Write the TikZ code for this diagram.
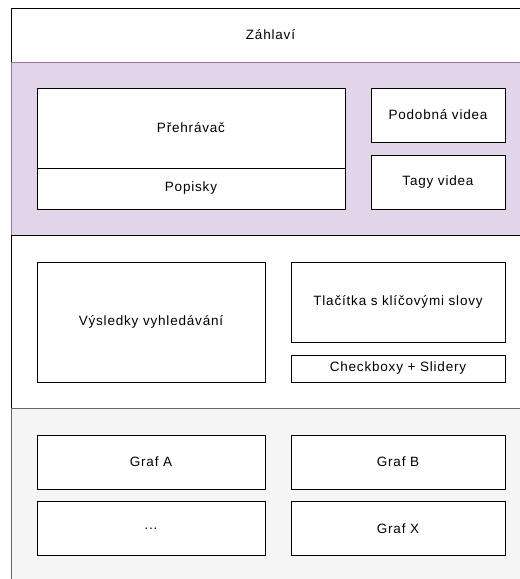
\documentclass[tikz,border=0pt]{standalone}
\usepackage{fontspec}
\setmainfont[LetterSpace=6]{Liberation Sans}
\begin{document}
\begin{tikzpicture}[x=1pt,y=-1pt,
  every node/.style={inner sep=0pt,outer sep=0pt,font=\fontsize{13.5}{15}\selectfont},
  band/.style={draw,line width=1pt,minimum width=519pt,minimum height=#1},
  box/.style={draw=black,fill=white,line width=1pt},
]
\useasboundingbox (0,0) rectangle (520,579);
\clip (0,0) rectangle (520,579);

% horizontal bands of the page layout
\node[band=54pt,draw=black,fill=white] (header) at (270.5,35) {Záhlaví};
\node[band=173pt,draw={rgb,255:red,150;green,115;blue,166},fill={rgb,255:red,225;green,213;blue,231}] (player) at (270.5,148.5) {};
\node[band=173pt,draw=black,fill=white] (search) at (270.5,321.5) {};
\node[band=173pt,draw={rgb,255:red,102;green,102;blue,102},fill={rgb,255:red,245;green,245;blue,245}] (graphs) at (270.5,494.5) {};

% player band
\node[box,minimum width=308pt,minimum height=80pt] (prehravac) at (191,128) {Přehrávač};
\node[box,minimum width=308pt,minimum height=41pt] (popisky) at (191,188.5) {Popisky};
\node[box,minimum width=134pt,minimum height=54pt] (podobna) at (438,115) {Podobná videa};
\node[box,minimum width=134pt,minimum height=54pt] (tagy) at (438,182) {Tagy videa};

% search band
\node[box,minimum width=228pt,minimum height=120pt] (vysledky) at (151,322) {Výsledky vyhledávání};
\node[box,minimum width=214pt,minimum height=80pt] (tlacitka) at (398,302) {Tlačítka s klíčovými slovy};
\node[box,minimum width=214pt,minimum height=27pt] (checkbox) at (398,368.5) {Checkboxy + Slidery};

% graphs band
\node[box,minimum width=228pt,minimum height=54pt] (grafA) at (151,462) {Graf A};
\node[box,minimum width=214pt,minimum height=54pt] (grafB) at (398,462) {Graf B};
\node[box,minimum width=228pt,minimum height=54pt] (dalsi) at (151,528.5) {...};
\node[box,minimum width=214pt,minimum height=54pt] (grafX) at (398,528.5) {Graf X};
\end{tikzpicture}
\end{document}
